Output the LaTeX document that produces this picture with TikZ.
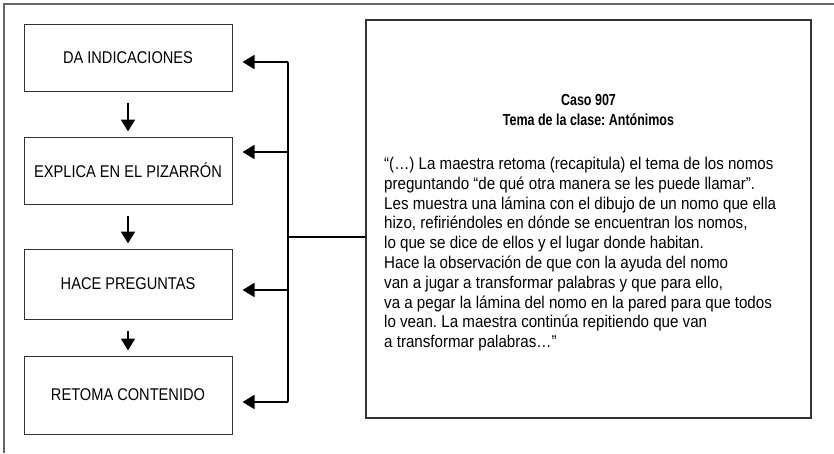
\documentclass[tikz,border=0pt]{standalone}
\usepackage{fontspec}
\setmainfont{Liberation Sans}[FakeStretch=0.89]
\newfontfamily\boxfont{Liberation Sans}[FakeStretch=0.86]
\newfontfamily\headfont{Liberation Sans}[FakeStretch=0.78]
\usetikzlibrary{arrows.meta}
\begin{document}
\frenchspacing
\begin{tikzpicture}[x=1pt,y=-1pt,
  framel/.style={draw=black!60,line width=1.4pt},
  stepbox/.style={draw=black!80,line width=1pt,minimum width=208pt,minimum height=67pt,inner sep=0pt,font=\boxfont\fontsize{17}{19}\selectfont},
  conn/.style={line width=1.8pt,black},
  harrow/.style={conn,-{Triangle[length=12pt,width=14pt]},shorten >=10pt},
  varrow/.style={conn,-{Triangle[length=12pt,width=14pt]},shorten <=11pt,shorten >=5pt},
  casebox/.style={draw=black!80,line width=1.2pt,minimum width=445pt,minimum height=398pt,inner sep=0pt}]
\useasboundingbox (0,0) rectangle (834,453);
\draw[framel] (4,453) -- (4,4) -- (834,4);
\node[stepbox] (b1) at (128,57.5) {DA INDICACIONES};
\node[stepbox] (b2) at (128,170.5) {EXPLICA EN EL PIZARRÓN};
\node[stepbox,minimum height=70pt] (b3) at (128,284) {HACE PREGUNTAS};
\node[stepbox,minimum height=78pt] (b4) at (128,395) {RETOMA CONTENIDO};
\node[casebox] (caso) at (588.5,219) {};
\node[font=\headfont\bfseries\fontsize{16}{19.5}\selectfont,align=center,anchor=north] (head) at (588.5,91) {Caso 907\\Tema de la clase: Antónimos};
\node[font=\fontsize{17}{19.8}\selectfont,align=left,anchor=north west,inner sep=0pt] (body) at (384,157) {“(\ldots) La maestra retoma (recapitula) el tema de los nomos\\
preguntando “de qué otra manera se les puede llamar”.\\
Les muestra una lámina con el dibujo de un nomo que ella\\
hizo, refiriéndoles en dónde se encuentran los nomos,\\
lo que se dice de ellos y el lugar donde habitan.\\
Hace la observación de que con la ayuda del nomo\\
van a jugar a transformar palabras y que para ello,\\
va a pegar la lámina del nomo en la pared para que todos\\
lo vean. La maestra continúa repitiendo que van\\
a transformar palabras\ldots”};
\coordinate (p1) at (288,62);
\coordinate (p2) at (288,152);
\coordinate (pj) at (288,237);
\coordinate (p3) at (288,290);
\coordinate (p4) at (288,402);
\draw[conn] (p1) -- (p4);
\draw[conn] (pj) -- (pj -| caso.west);
\draw[harrow] (p1) -- (p1 -| b1.east);
\draw[harrow] (p2) -- (p2 -| b2.east);
\draw[harrow] (p3) -- (p3 -| b3.east);
\draw[harrow] (p4) -- (p4 -| b4.east);
\draw[varrow] (b1.south) -- (b2.north);
\draw[varrow] (b2.south) -- (b3.north);
\draw[varrow] (b3.south) -- (b4.north);
\end{tikzpicture}
\end{document}
